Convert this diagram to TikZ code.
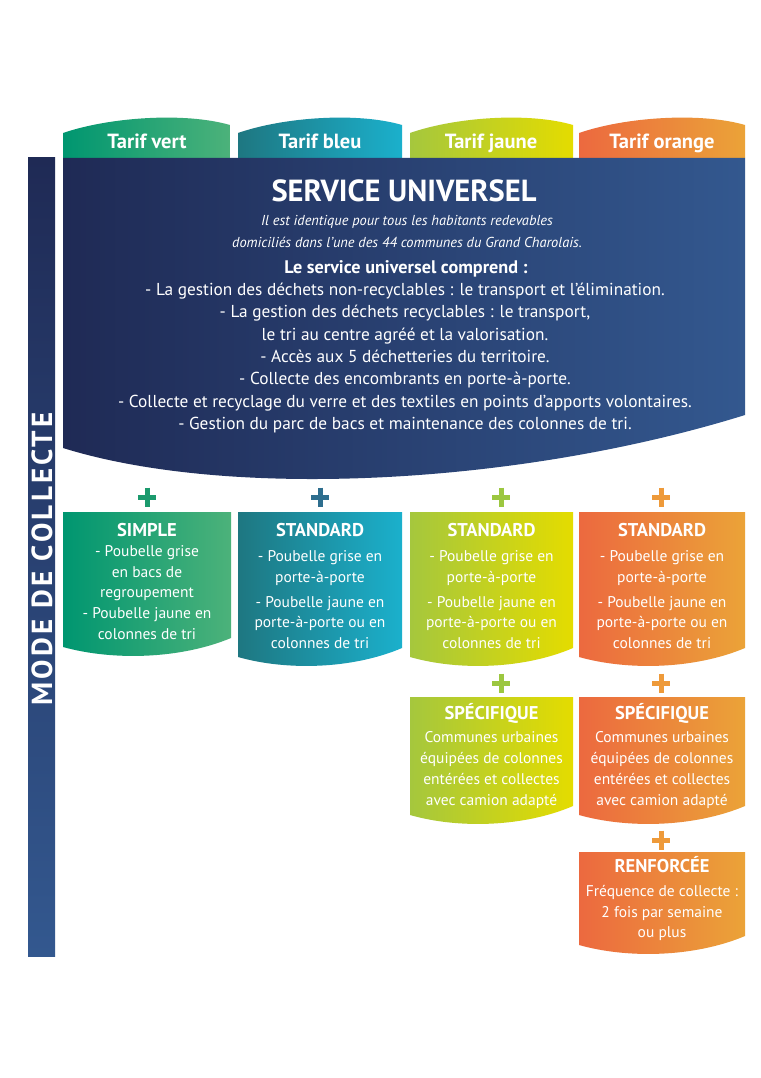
\documentclass[tikz,border=0pt]{standalone}
\usepackage{fontspec}
\setmainfont{PT Sans}
\definecolor{gA}{HTML}{009670}
\definecolor{gB}{HTML}{4CB27A}
\definecolor{bA}{HTML}{1E7781}
\definecolor{bB}{HTML}{1BB0CC}
\definecolor{yA}{HTML}{A5C73D}
\definecolor{yB}{HTML}{E4DC00}
\definecolor{oA}{HTML}{EC693F}
\definecolor{oB}{HTML}{EBA338}
\definecolor{nA}{HTML}{1F2A55}
\definecolor{nB}{HTML}{33588F}
\definecolor{pG}{HTML}{1B9A6D}
\definecolor{pB}{HTML}{2E6E8E}
\definecolor{pY}{HTML}{9CC740}
\definecolor{pO}{HTML}{EE9A3A}
\newcommand\tabshape[4]{\shade[left color=#3,right color=#4] (#1,158) -- (#1,133) .. controls ({#1+0.28*(#2-#1)},117) and ({#1+0.73*(#2-#1)},112) .. (#2,125) -- (#2,158) -- cycle;}
\newcommand\cardshape[6]{\shade[left color=#5,right color=#6] (#1,#3) -- (#2,#3) -- (#2,#4-9) .. controls ({#2-0.3*(#2-#1)},#4+12) and ({#1+0.3*(#2-#1)},#4+14) .. (#1,#4) -- cycle;}
\tikzset{
  every node/.style={text=white, inner sep=0pt},
  tablabel/.style={font=\fontsize{20.5}{23}\selectfont\bfseries, anchor=base},
  cardtitle/.style={font=\fontsize{18.5}{21}\selectfont\bfseries, anchor=base},
  cardbody/.style={font=\fontsize{15.5}{20.7}\selectfont, align=center},
  plussign/.style={minimum width=18pt, minimum height=19pt,
    path picture={\draw[line width=5pt,#1] (path picture bounding box.north) -- (path picture bounding box.south) (path picture bounding box.west) -- (path picture bounding box.east);}}
}
\begin{document}
\begin{tikzpicture}[x=1pt,y=-1pt]
\useasboundingbox (0,0) rectangle (760,1078);
\fill[white] (0,0) rectangle (760,1078);
% left bar
\shade[top color=nA,bottom color=nB] (28,158) rectangle (55,956);
\node[rotate=90, font=\fontsize{29}{31}\selectfont\bfseries\addfontfeatures{LetterSpace=11}] (mode) at (42,559) {MODE DE COLLECTE};
% tabs
\tabshape{63}{230}{gA}{gB}
\tabshape{238}{402}{bA}{bB}
\tabshape{410}{573}{yA}{yB}
\tabshape{579}{745}{oA}{oB}
\node[tablabel] (tv) at (147,149) {Tarif vert};
\node[tablabel] (tb) at (320,149) {Tarif bleu};
\node[tablabel] (tj) at (491,149) {Tarif jaune};
\node[tablabel] (to) at (662,149) {Tarif orange};
% main box
\shade[left color=nA,right color=nB] (63,158) -- (745,158) -- (745,415) .. controls (520,485) and (230,500) .. (63,448) -- cycle;
\node[font=\fontsize{30.5}{36}\selectfont\bfseries] (title) at (404,191) {SERVICE UNIVERSEL};
\node[font=\fontsize{14.4}{22}\selectfont\itshape, align=center] (intro) at (407,231) {Il est identique pour tous les habitants redevables\\domiciliés dans l’une des 44 communes du Grand Charolais.};
\node[font=\fontsize{18.2}{20}\selectfont\bfseries] (comp) at (406,269) {Le service universel comprend :};
\node[font=\fontsize{17.3}{22.33}\selectfont, align=center] (list) at (405,358) {- La gestion des déchets non-recyclables : le transport et l’élimination.\\- La gestion des déchets recyclables : le transport,\\le tri au centre agréé et la valorisation.\\- Accès aux 5 déchetteries du territoire.\\- Collecte des encombrants en porte-à-porte.\\- Collecte et recyclage du verre et des textiles en points d’apports volontaires.\\- Gestion du parc de bacs et maintenance des colonnes de tri.};
% plus signs row 1
\node[plussign=pG] (p1) at (147,497) {};
\node[plussign=pB] (p2) at (320,497) {};
\node[plussign=pY] (p3) at (501,497) {};
\node[plussign=pO] (p4) at (661,497) {};
% row 1 cards
\cardshape{63}{231}{512}{647}{gA}{gB}
\cardshape{238}{402}{512}{657}{bA}{bB}
\cardshape{410}{573}{512}{657}{yA}{yB}
\cardshape{579}{745}{512}{657}{oA}{oB}
\node[cardtitle] (t1) at (147,536.5) {SIMPLE};
\node[cardbody] (b1) at (147,592.5) {- Poubelle grise\\en bacs de\\regroupement\\- Poubelle jaune en\\colonnes de tri};
\node[cardtitle] (t2) at (320,536.5) {STANDARD};
\node[cardbody] (b2) at (320,599.5) {- Poubelle grise en\\porte-à-porte\\[4.3pt]- Poubelle jaune en\\porte-à-porte ou en\\colonnes de tri};
\node[cardtitle] (t3) at (491.5,536.5) {STANDARD};
\node[cardbody] (b3) at (491.5,599.5) {- Poubelle grise en\\porte-à-porte\\[4.3pt]- Poubelle jaune en\\porte-à-porte ou en\\colonnes de tri};
\node[cardtitle] (t4) at (662,536.5) {STANDARD};
\node[cardbody] (b4) at (662,599.5) {- Poubelle grise en\\porte-à-porte\\[4.3pt]- Poubelle jaune en\\porte-à-porte ou en\\colonnes de tri};
% row 2
\node[plussign=pY] (p5) at (501,683) {};
\node[plussign=pO] (p6) at (661,683) {};
\cardshape{410}{573}{697}{815}{yA}{yB}
\cardshape{579}{745}{697}{815}{oA}{oB}
\node[cardtitle] (t5) at (491.5,719.5) {SPÉCIFIQUE};
\node[cardbody] (b5) at (491.5,770) {Communes urbaines\\équipées de colonnes\\entérées et collectes\\avec camion adapté};
\node[cardtitle] (t6) at (662,719.5) {SPÉCIFIQUE};
\node[cardbody] (b6) at (662,770) {Communes urbaines\\équipées de colonnes\\entérées et collectes\\avec camion adapté};
% row 3
\node[plussign=pO] (p7) at (661,840) {};
\cardshape{579}{745}{852}{945}{oA}{oB}
\node[cardtitle] (t7) at (662,872.5) {RENFORCÉE};
\node[cardbody] (b7) at (662,913) {Fréquence de collecte :\\2 fois par semaine\\ou plus};
\end{tikzpicture}
\end{document}
